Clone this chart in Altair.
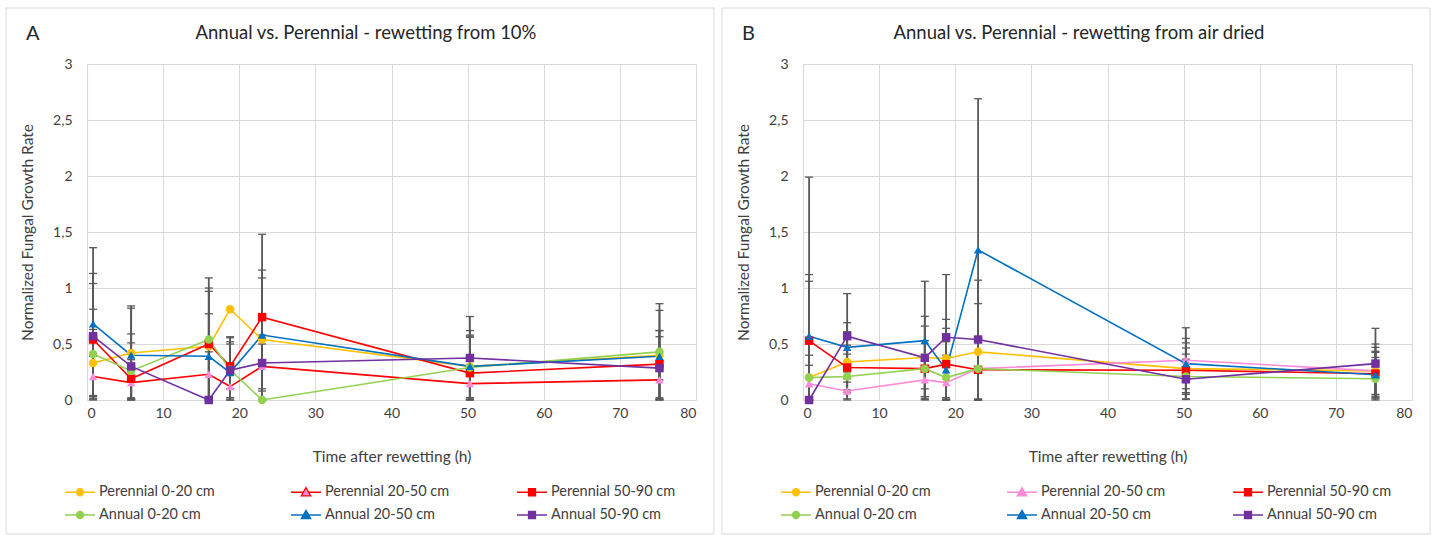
import altair as alt
import pandas as pd

# ---------------- data ----------------
times = [0.8, 5.8, 16, 18.8, 23, 50.3, 75.2]
series = ["Perennial 0-20 cm", "Perennial 20-50 cm", "Perennial 50-90 cm",
          "Annual 0-20 cm", "Annual 20-50 cm", "Annual 50-90 cm"]

# Panel A - rewetting from 10%
a_p020 = [0.33, 0.42, 0.48, 0.81, 0.54, 0.30, 0.40]
a_p2050 = [0.21, 0.155, 0.23, 0.12, 0.30, 0.146, 0.18]
a_p5090 = [0.54, 0.19, 0.50, 0.30, 0.74, 0.24, 0.32]
a_a020 = [0.41, 0.26, 0.54, 0.27, 0.0, 0.29, 0.43]
a_a2050 = [0.68, 0.40, 0.39, 0.245, 0.58, 0.30, 0.39]
a_a5090 = [0.57, 0.30, 0.0, 0.265, 0.33, 0.375, 0.285]

a_p020_err = [0.30, 0.42, 0.49, 0.0, 0.55, 0.32, 0.22]
a_p2050_err = [0.18, 0.15, 0.20, 0.10, 0.20, 0.14, 0.17]
a_p5090_err = [0.50, 0.17, 0.50, 0.20, 0.74, 0.33, 0.30]
a_a020_err = [0.40, 0.25, 0.55, 0.25, 0.0, 0.27, 0.43]
a_a2050_err = [0.68, 0.42, 0.38, 0.31, 0.58, 0.28, 0.41]
a_a5090_err = [0.56, 0.29, 0.0, 0.30, 0.25, 0.37, 0.28]

# Panel B - rewetting from air dried
b_p020 = [0.20, 0.34, 0.38, 0.37, 0.43, 0.28, 0.26]
b_p2050 = [0.145, 0.08, 0.18, 0.155, 0.28, 0.355, 0.26]
b_p5090 = [0.53, 0.29, 0.28, 0.32, 0.27, 0.265, 0.235]
b_a020 = [0.20, 0.21, 0.28, 0.20, 0.28, 0.21, 0.19]
b_a2050 = [0.57, 0.47, 0.53, 0.27, 1.34, 0.325, 0.225]
b_a5090 = [0.0, 0.57, 0.377, 0.56, 0.54, 0.185, 0.325]

b_p020_err = [0.20, 0.27, 0.28, 0.35, 0.43, 0.23, 0.24]
b_p2050_err = [0.165, 0.08, 0.17, 0.15, 0.28, 0.29, 0.21]
b_p5090_err = [0.59, 0.20, 0.25, 0.32, 0.27, 0.20, 0.20]
b_a020_err = [0.86, 0.20, 0.25, 0.20, 0.28, 0.20, 0.19]
b_a2050_err = [1.42, 0.22, 0.53, 0.25, 1.35, 0.225, 0.20]
b_a5090_err = [0.0, 0.38, 0.37, 0.56, 0.53, 0.18, 0.315]

marker_colors = ["#FFC000", "#FF8AD8", "#FF0000", "#92D050", "#0070C0", "#7030A0"]
line_colors_a = ["#FFC000", "#FF0000", "#FF0000", "#92D050", "#0070C0", "#7030A0"]
line_colors_b = ["#FFC000", "#FF8AD8", "#FF0000", "#92D050", "#0070C0", "#7030A0"]
shapes = ["circle", "triangle-up", "square", "circle", "triangle-up", "square"]

# legend symbols: line segment with a marker
p_circ = "M-1.5,0L-0.35,0M0.35,0L1.5,0M-0.35,0A0.35,0.35,0,1,1,0.35,0A0.35,0.35,0,1,1,-0.35,0Z"
p_tri = "M-1.5,0L-0.26,0M0.26,0L1.5,0M0,-0.47L0.47,0.36L-0.47,0.36Z"
p_sq = "M-1.5,0L-0.35,0M0.35,0L1.5,0M-0.35,-0.35L0.35,-0.35L0.35,0.35L-0.35,0.35Z"
legend_paths = [p_circ, p_tri, p_sq, p_circ, p_tri, p_sq]

FONT = "Lato"
TXT = "#404040"
W, H = 609, 336


def panel(vals, errs, line_colors, letter, title, ytitle_pad, title_x):
    rows = []
    for si, s in enumerate(series):
        for ti, t in enumerate(times):
            v = vals[si][ti]
            e = errs[si][ti]
            rows.append({"series": s, "t": t, "y": v,
                         "lo": max(0.0, v - e), "hi": v + e, "o": si})
    df = pd.DataFrame(rows)

    xs = alt.Scale(domain=[0, 80], nice=False, zero=False)
    ys = alt.Scale(domain=[0, 3], nice=False)
    xax = alt.Axis(values=list(range(0, 81, 10)), title="Time after rewetting (h)",
                   grid=True, ticks=False, labelPadding=6, titlePadding=29)
    yax = alt.Axis(values=[0, 0.5, 1, 1.5, 2, 2.5, 3], title="Normalized Fungal Growth Rate",
                   grid=True, ticks=False, labelPadding=15, titlePadding=ytitle_pad,
                   labelExpr="replace(format(datum.value, '~g'), '.', ',')")

    def X(f):
        return alt.X(f, type="quantitative", scale=xs, axis=xax)

    def Y(f):
        return alt.Y(f, type="quantitative", scale=ys, axis=yax)

    base = alt.Chart(df)

    frame = alt.Chart(pd.DataFrame({"k": [0]})).mark_rect(
        fillOpacity=0, stroke="#D9D9D9", strokeWidth=1
    ).encode(x=alt.value(-81), x2=alt.value(627), y=alt.value(-56), y2=alt.value(470))

    err = base.mark_rule(color="#595959", strokeWidth=1.8).encode(
        x=X("t"), y=Y("lo"), y2="hi")
    cap_hi = base.mark_rule(color="#595959", strokeWidth=1.3, xOffset=-4, x2Offset=4).encode(
        x=X("t"), x2="t", y=Y("hi"))
    cap_lo = base.mark_rule(color="#595959", strokeWidth=1.3, xOffset=-4, x2Offset=4).encode(
        x=X("t"), x2="t", y=Y("lo"))

    lines = base.mark_line(strokeWidth=1.6).encode(
        x=X("t"), y=Y("y"),
        color=alt.Color("series:N", scale=alt.Scale(domain=series, range=line_colors), legend=None),
        order="t:Q")

    pts = base.mark_point(filled=True, opacity=1, size=72).encode(
        x=X("t"), y=Y("y"),
        fill=alt.Fill("series:N", scale=alt.Scale(domain=series, range=marker_colors), legend=None),
        shape=alt.Shape("series:N", scale=alt.Scale(domain=series, range=shapes), legend=None),
        order="o:Q")

    leg = alt.Legend(orient="none", legendX=-18, legendY=417, columns=3, direction="horizontal",
                     title=None, labelFont=FONT, labelFontSize=14.5, labelColor=TXT,
                     symbolSize=400, symbolStrokeWidth=1.3, labelOffset=8,
                     columnPadding=64, rowPadding=5, gridAlign="all", labelLimit=300)
    legend_layer = base.transform_filter("false").mark_point(
        filled=True, opacity=1, size=400, strokeWidth=1.3).encode(
        x=X("t"), y=Y("y"),
        fill=alt.Fill("series:N", scale=alt.Scale(domain=series, range=marker_colors), legend=leg),
        stroke=alt.Stroke("series:N", scale=alt.Scale(domain=series, range=line_colors), legend=leg),
        shape=alt.Shape("series:N", scale=alt.Scale(domain=series, range=legend_paths), legend=leg))

    letter_t = alt.Chart(pd.DataFrame({"s": [letter]})).mark_text(
        align="left", baseline="middle", font=FONT, fontSize=20, color="#262626"
    ).encode(text="s:N", x=alt.value(-61), y=alt.value(-30))
    title_t = alt.Chart(pd.DataFrame({"s": [title]})).mark_text(
        align="center", baseline="middle", font=FONT, fontSize=18.5, color="#262626"
    ).encode(text="s:N", x=alt.value(title_x), y=alt.value(-31))

    return alt.layer(frame, err, cap_hi, cap_lo, lines, pts, legend_layer, letter_t, title_t).resolve_scale(
        fill="independent", stroke="independent", shape="independent", color="independent"
    ).resolve_legend(fill="independent", stroke="independent", shape="independent", color="independent"
    ).properties(width=W, height=H)


A = panel([a_p020, a_p2050, a_p5090, a_a020, a_a2050, a_a5090],
          [a_p020_err, a_p2050_err, a_p5090_err, a_a020_err, a_a2050_err, a_a5090_err],
          line_colors_a, "A", "Annual vs. Perennial - rewetting from 10%", 17, 279)
B = panel([b_p020, b_p2050, b_p5090, b_a020, b_a2050, b_a5090],
          [b_p020_err, b_p2050_err, b_p5090_err, b_a020_err, b_a2050_err, b_a5090_err],
          line_colors_b, "B", "Annual vs. Perennial - rewetting from air dried", 17, 276)

chart = alt.hconcat(A, B, spacing=6).resolve_scale(
    fill="independent", stroke="independent", shape="independent", color="independent"
).resolve_legend(
    fill="independent", stroke="independent", shape="independent", color="independent"
).properties(
    padding={"left": 5, "top": 7, "right": 0, "bottom": 0},
    background="white",
).configure_view(strokeWidth=0).configure_axis(
    labelFont=FONT, labelFontSize=14, labelColor=TXT,
    titleFont=FONT, titleFontSize=15.5, titleColor=TXT, titleFontWeight="normal",
    gridColor="#D9D9D9", gridWidth=1, domainColor="#D9D9D9", domainWidth=1.2,
)

chart.save("out.html", embed_options={"renderer": "svg", "actions": False})
